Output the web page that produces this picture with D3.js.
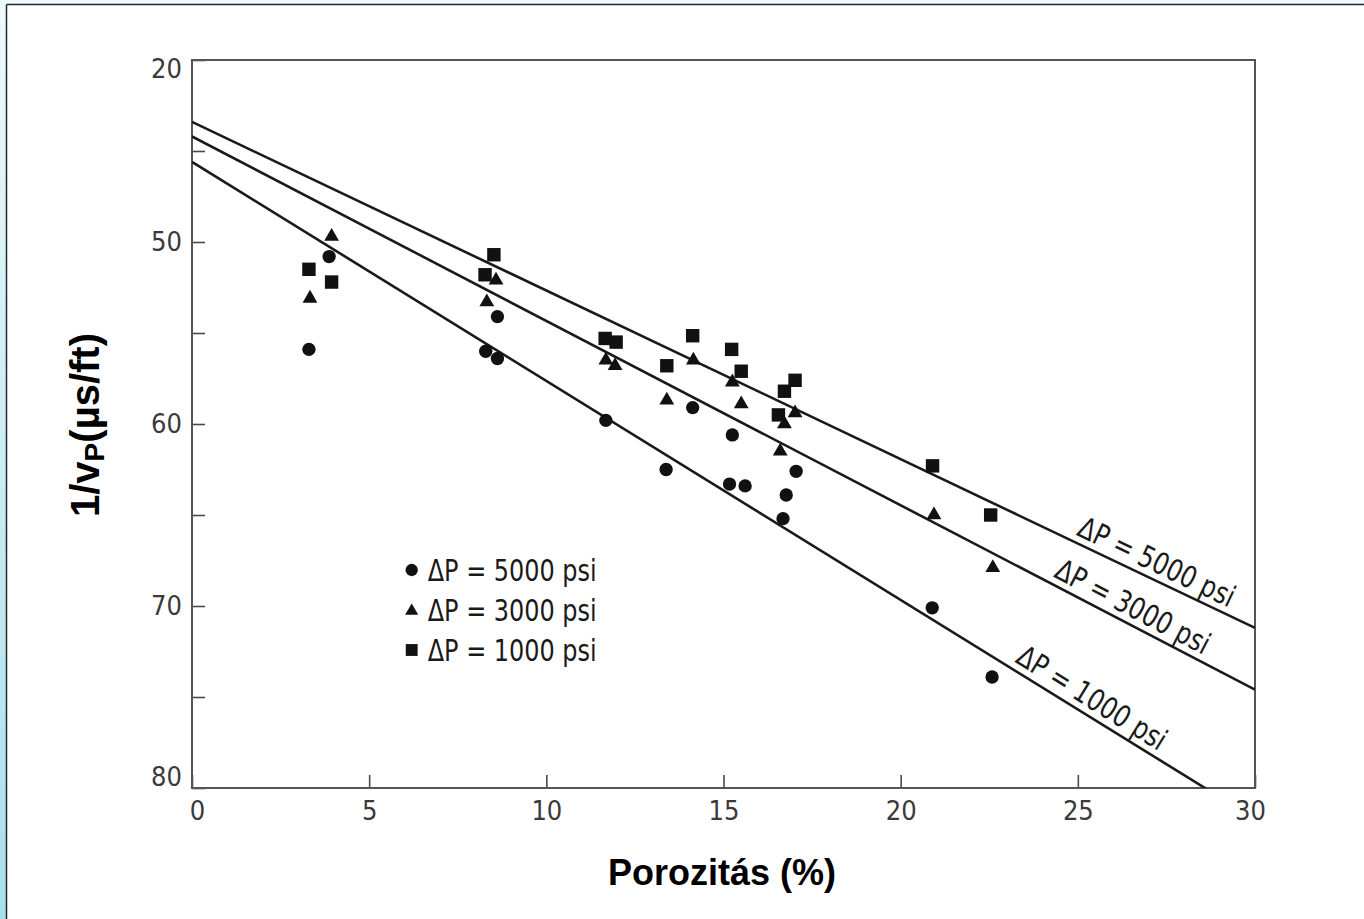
<!DOCTYPE html>
<html>
<head>
<meta charset="utf-8">
<script src="https://cdn.jsdelivr.net/npm/d3@7"></script>
<style>
    html, body { margin: 0; padding: 0; background: #fff; }
    svg { display: block; }
    .tick text { font-family: "Liberation Sans Narrow", "Arial Narrow", "DejaVu Sans Condensed", sans-serif; font-stretch: condensed; }
</style>
</head>
<body>
<div id="chart"></div>
<script>
// porosity (%) and 1/Vp (µs/ft)
const porosity_5000 = [3.3, 3.87, 8.29, 8.62, 8.62, 11.68, 13.38, 14.13, 15.25, 15.17, 15.61, 17.05, 16.77, 16.68, 20.89, 22.58];
const slowness_5000 = [55.9, 50.8, 56.0, 56.4, 54.1, 59.8, 62.5, 59.1, 60.6, 63.3, 63.4, 62.6, 63.9, 65.2, 70.1, 73.9];

const porosity_3000 = [3.33, 3.94, 8.32, 8.58, 11.68, 11.94, 13.4, 14.15, 15.25, 15.5, 16.6, 16.72, 17.02, 20.94, 22.6];
const slowness_3000 = [53.1, 49.7, 53.3, 52.1, 56.5, 56.8, 58.7, 56.5, 57.7, 58.9, 61.5, 60.0, 59.4, 65.0, 67.9];

const porosity_1000 = [3.3, 3.94, 8.27, 8.52, 11.66, 11.97, 14.13, 13.4, 15.23, 15.5, 17.02, 16.72, 16.55, 20.9, 22.54];
const slowness_1000 = [51.5, 52.2, 51.8, 50.7, 55.3, 55.5, 55.15, 56.8, 55.9, 57.1, 57.6, 58.2, 59.5, 62.3, 65.0];

// fitted lines, end points at porosity 0 and 30
const line_porosity = [0, 30];
const line_5000 = [43.4, 71.2];
const line_3000 = [44.2, 74.6];
const line_1000 = [45.6, 81.7];
// porosity where each line label starts
const label_porosity = [24.85, 24.2, 23.1];

const series_names = ["ΔP = 5000 psi", "ΔP = 3000 psi", "ΔP = 1000 psi"];

const x_ticks = [0, 5, 10, 15, 20, 25, 30];
const y_ticks = [40, 50, 60, 70, 80];
const y_tick_labels = ["20", "50", "60", "70", "80"];
const y_minor_ticks = [45, 55, 65, 75];

const svg_w = 1364, svg_h = 919;
const margin = { top: 60, right: 109, bottom: 131, left: 192 };
const width = svg_w - margin.left - margin.right,
    height = svg_h - margin.top - margin.bottom;

const narrow_font = '"Liberation Sans Narrow", "Arial Narrow", "DejaVu Sans Condensed", sans-serif';

const svg = d3.select("#chart")
    .append("svg")
    .attr("width", svg_w)
    .attr("height", svg_h);

// page frame: blue strips on top and left
const defs = svg.append("defs");
const grad = defs.append("linearGradient")
    .attr("id", "side_grad")
    .attr("x1", 0).attr("y1", 0).attr("x2", 0).attr("y2", 1);
grad.append("stop").attr("offset", "0%").attr("stop-color", "#eef9fb");
grad.append("stop").attr("offset", "100%").attr("stop-color", "#a9dfeb");

svg.append("rect").attr("x", 0).attr("y", 0).attr("width", svg_w).attr("height", 4).attr("fill", "#eefafc");
svg.append("rect").attr("x", 0).attr("y", 0).attr("width", 6).attr("height", svg_h).attr("fill", "url(#side_grad)");
svg.append("line").attr("x1", 6.5).attr("x2", svg_w).attr("y1", 4.5).attr("y2", 4.5)
    .attr("stroke", "#1e2a2e").attr("stroke-width", 1.5);
svg.append("line").attr("x1", 6.5).attr("x2", 6.5).attr("y1", 4.5).attr("y2", svg_h)
    .attr("stroke", "#1e2a2e").attr("stroke-width", 1.5);

defs.append("clipPath").attr("id", "plot_clip")
    .append("rect").attr("width", width).attr("height", height);

const g = svg.append("g")
    .attr("transform", "translate(" + margin.left + "," + margin.top + ")");

const x = d3.scaleLinear().domain([0, 30]).range([0, width]);
const y = d3.scaleLinear().domain([40, 80]).range([0, height]);

// axes
const xAxis = d3.axisBottom(x)
    .tickValues(x_ticks)
    .tickSizeInner(-13)
    .tickSizeOuter(0)
    .tickPadding(13)
    .tickFormat(d3.format("d"));

const gx = g.append("g")
    .attr("transform", "translate(0," + height + ")")
    .call(xAxis);
gx.select(".domain").remove();
gx.selectAll(".tick line").attr("stroke", "#4a4a4a").attr("stroke-width", 1.6);
gx.selectAll(".tick text")
    .attr("fill", "#3a3a3a")
    .style("font-size", "27px")
    .attr("dx", d => d === 0 ? 5 : (d === 30 ? -5 : 0));

const yAxis = d3.axisLeft(y)
    .tickValues(y_ticks)
    .tickSizeInner(-13)
    .tickSizeOuter(0)
    .tickPadding(10)
    .tickFormat((d, i) => y_tick_labels[i]);

const gy = g.append("g").call(yAxis);
gy.select(".domain").remove();
gy.selectAll(".tick line").attr("stroke", "#4a4a4a").attr("stroke-width", 1.6);
gy.selectAll(".tick text")
    .attr("fill", "#3a3a3a")
    .style("font-size", "27px")
    .attr("y", d => d === 40 ? 9 : (d === 80 ? -11 : 0));

const gyMinor = g.append("g")
    .call(d3.axisLeft(y).tickValues(y_minor_ticks).tickSizeInner(-13).tickSizeOuter(0).tickFormat(""));
gyMinor.select(".domain").remove();
gyMinor.selectAll(".tick line").attr("stroke", "#4a4a4a").attr("stroke-width", 1.6);

// plot frame
g.append("rect")
    .attr("width", width)
    .attr("height", height)
    .attr("fill", "none")
    .attr("stroke", "#555")
    .attr("stroke-width", 2);

// fitted lines
const lines = [line_5000, line_3000, line_1000];
const lineGen = d3.line()
    .x(d => x(d[0]))
    .y(d => y(d[1]));

const gl = g.append("g").attr("clip-path", "url(#plot_clip)");
lines.forEach(function (l) {
    gl.append("path")
        .datum(line_porosity.map((p, i) => [p, l[i]]))
        .attr("d", lineGen)
        .attr("fill", "none")
        .attr("stroke", "#1a1a1a")
        .attr("stroke-width", 2.6);
});

// line labels, rotated along each line
lines.forEach(function (l, i) {
    const p0 = label_porosity[i];
    const slope = (l[1] - l[0]) / (line_porosity[1] - line_porosity[0]);
    const v0 = l[0] + slope * p0;
    const px = x(p0), py = y(v0);
    const angle = Math.atan2(y(l[1]) - y(l[0]), x(line_porosity[1]) - x(line_porosity[0])) * 180 / Math.PI;
    g.append("text")
        .attr("transform", "translate(" + px + "," + py + ") rotate(" + angle + ")")
        .attr("dy", -7)
        .attr("fill", "#1a1a1a")
        .style("font-family", narrow_font)
        .style("font-stretch", "condensed")
        .style("font-size", "30px")
        .attr("textLength", 170)
        .attr("lengthAdjust", "spacingAndGlyphs")
        .text(series_names[i]);
});

// markers
const symbols = [d3.symbolCircle, d3.symbolTriangle, d3.symbolSquare];
const sizes = [140, 95, 180];
const series = [
    porosity_5000.map((p, i) => [p, slowness_5000[i]]),
    porosity_3000.map((p, i) => [p, slowness_3000[i]]),
    porosity_1000.map((p, i) => [p, slowness_1000[i]]),
];

series.forEach(function (s, k) {
    g.append("g")
        .selectAll("path")
        .data(s)
        .enter()
        .append("path")
        .attr("transform", d => "translate(" + x(d[0]) + "," + y(d[1]) + ")")
        .attr("d", d3.symbol().type(symbols[k]).size(sizes[k]))
        .attr("fill", "#111");
});

// legend
const legend = g.append("g")
    .attr("transform", "translate(" + (411.7 - margin.left) + "," + (570 - margin.top) + ")");
series_names.forEach(function (name, k) {
    const row = legend.append("g").attr("transform", "translate(0," + (k * 40) + ")");
    row.append("path")
        .attr("d", d3.symbol().type(symbols[k]).size([120, 75, 140][k]))
        .attr("transform", k === 1 ? "translate(0,1)" : null)
        .attr("fill", "#111");
    row.append("text")
        .attr("x", 16)
        .attr("y", 11)
        .attr("fill", "#1a1a1a")
        .style("font-family", narrow_font)
        .style("font-stretch", "condensed")
        .style("font-size", "30px")
        .attr("textLength", 169)
        .attr("lengthAdjust", "spacingAndGlyphs")
        .text(name);
});

// axis titles
svg.append("text")
    .attr("x", 722)
    .attr("y", 885)
    .attr("text-anchor", "middle")
    .style("font-family", '"Liberation Sans", Arial, sans-serif')
    .style("font-weight", "bold")
    .style("font-size", "36px")
    .attr("fill", "#000")
    .text("Porozitás (%)");

const ylab = svg.append("text")
    .attr("transform", "translate(99,425) rotate(-90)")
    .attr("text-anchor", "middle")
    .style("font-family", '"Liberation Sans", Arial, sans-serif')
    .style("font-weight", "bold")
    .style("font-size", "40px")
    .attr("fill", "#000");
ylab.append("tspan").text("1/v");
ylab.append("tspan").attr("dy", 5).style("font-size", "28px").text("P");
ylab.append("tspan").attr("dy", -5).text("(µs/ft)");
</script>
</body>
</html>
